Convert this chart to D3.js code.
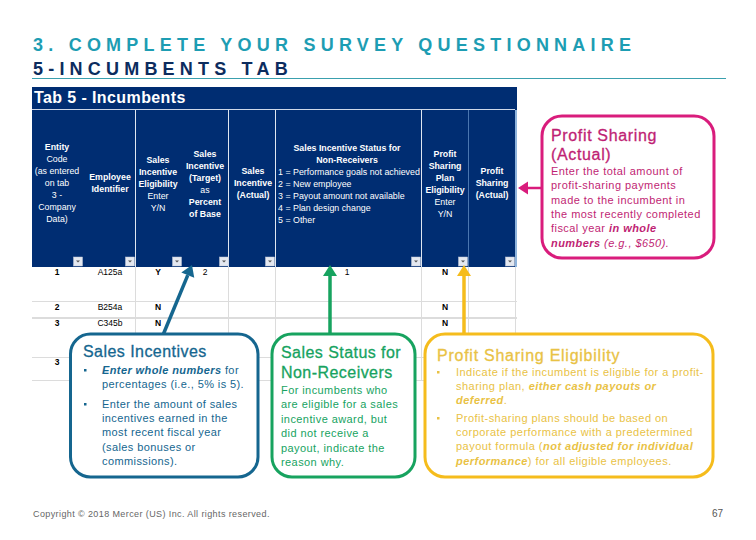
<!DOCTYPE html>
<html><head><meta charset="utf-8">
<script src="https://cdn.jsdelivr.net/npm/d3@7/dist/d3.min.js"></script>
<style>html,body{margin:0;background:#fff}svg{display:block;font-family:"Liberation Sans",Arial,sans-serif}</style>
</head><body><svg id="c" width="756" height="540"></svg>
<script>
const titleLine1 = "3. COMPLETE YOUR SURVEY QUESTIONNAIRE";
const titleLine2 = "5-INCUMBENTS TAB";
const tabTitle = "Tab 5 - Incumbents";
const footerText = "Copyright © 2018 Mercer (US) Inc. All rights reserved.";
const pageNumber = "67";

const columns = ["entity","employee","eligible","target","actual","status","psEligible","psActual"];
const entityHeader = [["Entity",1],["Code",0],["(as entered",0],["on tab",0],["3 -",0],["Company",0],["Data)",0]];
const employeeHeader = [["Employee",1],["Identifier",1]];
const eligibleHeader = [["Sales",1],["Incentive",1],["Eligibility",1],["Enter",0],["Y/N",0]];
const targetHeader = [["Sales",1],["Incentive",1],["(Target)",1],["as",0],["Percent",1],["of Base",1]];
const actualHeader = [["Sales",1],["Incentive",1],["(Actual)",1]];
const statusHeader = [["Sales Incentive Status for",1],["Non-Receivers",1]];
const statusCodes = ["1 = Performance goals not achieved","2 = New employee","3 = Payout amount not available","4 = Plan design change","5 = Other"];
const psEligibleHeader = [["Profit",1],["Sharing",1],["Plan",1],["Eligibility",1],["Enter",0],["Y/N",0]];
const psActualHeader = [["Profit",1],["Sharing",1],["(Actual)",1]];

const rowEntity = ["1","2","3","3"];
const rowEmployee = ["A125a","B254a","C345b",""];
const rowEligible = ["Y","N","N",""];
const rowTarget = ["2","","",""];
const rowStatus = ["1","","",""];
const rowPsEligible = ["N","N","N",""];

const r=(t)=>({t}), b=(t)=>({t,w:"bold",i:"italic"}), it=(t)=>({t,i:"italic"});
const blueTitle = ["Sales Incentives"];
const blueBody = [[b("Enter whole numbers"),r(" for")],[r("percentages (i.e., 5% is 5).")],[r("Enter the amount of sales")],[r("incentives earned in the")],[r("most recent fiscal year")],[r("(sales bonuses or")],[r("commissions).")]];
const greenTitle = ["Sales Status for","Non-Receivers"];
const greenBody = ["For incumbents who","are eligible for a sales","incentive award, but","did not receive a","payout, indicate the","reason why."];
const yellowTitle = ["Profit Sharing Eligibility"];
const yellowBody = [[r("Indicate if the incumbent is eligible for a profit-")],[r("sharing plan, "),b("either cash payouts or")],[b("deferred"),r(".")],[r("Profit-sharing plans should be based on")],[r("corporate performance with a predetermined")],[r("payout formula ("),b("not adjusted for individual")],[b("performance"),r(") for all eligible employees.")]];
const pinkTitle = ["Profit Sharing","(Actual)"];
const pinkBody = [[r("Enter the total amount of")],[r("profit-sharing payments")],[r("made to the incumbent in")],[r("the most recently completed")],[r("fiscal year "),b("in whole")],[b("numbers"),it(" (e.g., $650).")]];

const NAVY="#002d72",BLUE="#15668f",GREEN="#17a35f",YEL="#f5bc1c",YTXT="#e9c245",PINK="#d91c7c",PTXT="#bf1f74",GRID="#dcdcdc";
const svg=d3.select("#c");
const x=d3.scaleOrdinal().domain(columns).range([57,110,158,205,253,347,445,492]);
const btnX=d3.scaleOrdinal().domain(columns).range([78,130,177,224,270,416,463,510]);
const rowY=d3.scaleOrdinal().domain([0,1,2,3]).range([275,310,326,365]);

function txt(g,s,xp,y,o={}){
  const e=g.append("text").attr("x",xp).attr("y",y).attr("fill",o.fill||"#000").attr("font-size",o.size||11)
   .attr("text-anchor",o.anchor||"start").attr("font-weight",o.weight||"normal").attr("letter-spacing",o.ls||0).attr("font-style",o.style||"normal");
  if(o.stroke)e.attr("stroke",o.fill).attr("stroke-width",o.stroke);
  if(typeof s==="string")e.text(s);else s.forEach(p=>e.append("tspan").text(p.t).attr("font-weight",p.w||"normal").attr("font-style",p.i||"normal"));
  return e;
}
// title
txt(svg,titleLine1,33,51,{fill:"#1d9db3",size:18,weight:"bold",ls:5.22});
txt(svg,titleLine2,33,75,{fill:"#0c2c5e",size:18,weight:"bold",ls:5.2});
svg.append("line").attr("x1",32).attr("x2",726).attr("y1",78.5).attr("y2",78.5).attr("stroke","#3aa0ae");

// table
const t=svg.append("g");
t.append("rect").attr("x",32).attr("y",87).attr("width",485).attr("height",180).attr("fill",NAVY);
t.append("rect").attr("x",515).attr("y",110).attr("width",2).attr("height",157).attr("fill","#8fb4dc");
t.append("line").attr("x1",32).attr("x2",515).attr("y1",109.5).attr("y2",109.5).attr("stroke","#cfd8e8");
[135,228,275,421].forEach(v=>t.append("line").attr("x1",v+.5).attr("x2",v+.5).attr("y1",110).attr("y2",267).attr("stroke","#dfe6f0"));
t.append("line").attr("x1",468.5).attr("x2",468.5).attr("y1",110).attr("y2",267).attr("stroke","#4a76b0");
txt(t,tabTitle,34,103,{fill:"#fff",size:16,weight:"bold",ls:.4});

const H=12;
function head(col,lines,y0){lines.forEach((l,i)=>txt(t,l[0],x(col),y0+i*H,{fill:"#fff",size:8.8,anchor:"middle",weight:l[1]?"bold":"normal"}));}
head("entity",entityHeader,150);
head("employee",employeeHeader,180);
head("eligible",eligibleHeader,163);
head("target",targetHeader,157);
head("actual",actualHeader,174);
head("status",statusHeader,151);
statusCodes.forEach((s,i)=>txt(t,s,278,175+i*H,{fill:"#fff",size:8.85}));
head("psEligible",psEligibleHeader,157);
head("psActual",psActualHeader,174);

columns.forEach(c=>{
  const g=t.append("g").attr("transform",`translate(${btnX(c)-4.5},257)`);
  g.append("rect").attr("width",9).attr("height",9).attr("fill","#e4e8f0").attr("stroke","#c0c8d8").attr("stroke-width",.5);
  g.append("path").attr("d","M2.5 3.5H6.5L4.5 5.5Z").attr("fill","#555");
});

// grid
[301,317,318,357,380].forEach(v=>t.append("line").attr("x1",32).attr("x2",517).attr("y1",v+.5).attr("y2",v+.5).attr("stroke",GRID));
[135,228,275,421,468,515].forEach(v=>t.append("line").attr("x1",v+.5).attr("x2",v+.5).attr("y1",267).attr("y2",380).attr("stroke",GRID));

// rows
function cells(col,vals,weight){vals.forEach((v,i)=>{if(v)txt(t,v,x(col),rowY(i),{size:8.5,anchor:"middle",weight});});}
cells("entity",rowEntity,"bold");
cells("employee",rowEmployee,"normal");
cells("eligible",rowEligible,"bold");
cells("target",rowTarget,"normal");
cells("status",rowStatus,"normal");
cells("psEligible",rowPsEligible,"bold");

// arrows
function arrow(x1,y1,x2,y2,c,w,hl,hw){
  const a=Math.atan2(y2-y1,x2-x1),bx=x2-hl*Math.cos(a),by=y2-hl*Math.sin(a),nx=-Math.sin(a),ny=Math.cos(a);
  svg.append("line").attr("x1",x1).attr("y1",y1).attr("x2",bx).attr("y2",by).attr("stroke",c).attr("stroke-width",w);
  svg.append("path").attr("fill",c).attr("d",d3.line()([[x2,y2],[bx+nx*hw,by+ny*hw],[bx-nx*hw,by-ny*hw]])+"Z");
}
arrow(163,335,192,265,BLUE,3.5,11,7);
arrow(330,335,330,265,GREEN,3.5,11,7);
arrow(464,335,464,265,YEL,3.5,11,7);
arrow(543,188,518,188,PINK,2.5,10,6.5);

// callouts
function box(x0,y0,x1,y1,c){svg.append("rect").attr("x",x0).attr("y",y0).attr("width",x1-x0).attr("height",y1-y0).attr("rx",20).attr("fill","#fff").attr("stroke",c).attr("stroke-width",3);}
function bullet(bx,y,c){svg.append("rect").attr("x",bx).attr("y",y-5).attr("width",2.5).attr("height",2.5).attr("fill",c);}
const TS=16, TK=.3;

box(70.5,334,258,477,BLUE);
txt(svg,blueTitle[0],83,357,{fill:BLUE,size:TS,stroke:TK,ls:.45});
const blueYs=[374,388,408,422,436,451,465];
blueBody.forEach((l,i)=>txt(svg,l,102,blueYs[i],{fill:BLUE,size:11,ls:.4}));
[374,408].forEach(y=>bullet(84,y,BLUE));

box(272,334,415,477,GREEN);
greenTitle.forEach((s,i)=>txt(svg,s,281,358+i*20,{fill:GREEN,size:TS,stroke:TK,ls:.45}));
greenBody.forEach((s,i)=>txt(svg,s,281,394+i*14.4,{fill:GREEN,size:11,ls:.42}));

box(425,334,713,477,YEL);
txt(svg,yellowTitle[0],437,361,{fill:YTXT,size:TS,stroke:TK,ls:.75});
const yelYs=[376,390,404,422,436,450,465];
yellowBody.forEach((l,i)=>txt(svg,l,456,yelYs[i],{fill:YTXT,size:11,ls:.47}));
[376,422].forEach(y=>bullet(437,y,YTXT));

box(542,116,714,258,PINK);
pinkTitle.forEach((s,i)=>txt(svg,s,551,141+i*18.5,{fill:PTXT,size:TS,stroke:TK,ls:.65}));
pinkBody.forEach((l,i)=>txt(svg,l,551,175+i*14.3,{fill:PTXT,size:11,ls:.45}));

// footer
txt(svg,footerText,33,517,{fill:"#666",size:9,ls:.4});
txt(svg,pageNumber,723,517,{fill:"#555",size:10,anchor:"end"});
</script></body></html>
